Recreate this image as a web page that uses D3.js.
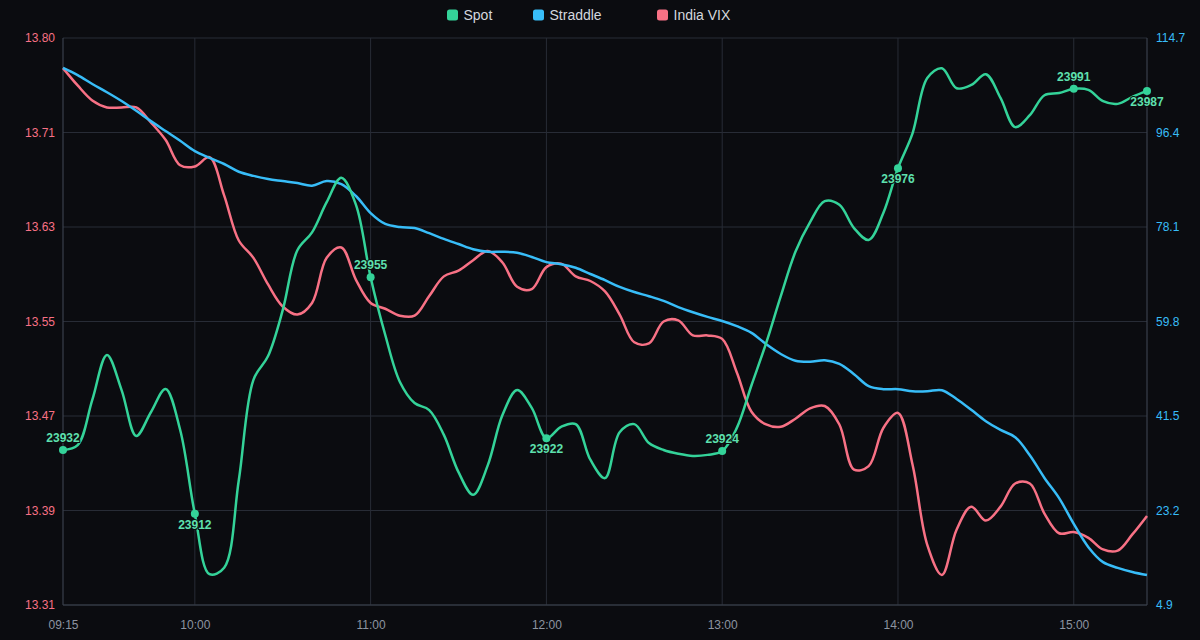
<!DOCTYPE html>
<html>
<head>
<meta charset="utf-8">
<script src="https://cdn.jsdelivr.net/npm/d3@7"></script>
<style>
  html, body { margin: 0; padding: 0; background: #0b0c10; }
  svg { display: block; font-family: "Liberation Sans", Arial, sans-serif; }
</style>
</head>
<body>
<svg id="chart"></svg>
<script>
// 5-minute snapshots, 09:15 to 15:25
const times = [
  "09:15","09:20","09:25","09:30","09:35","09:40","09:45","09:50","09:55","10:00",
  "10:05","10:10","10:15","10:20","10:25","10:30","10:35","10:40","10:45","10:50",
  "10:55","11:00","11:05","11:10","11:15","11:20","11:25","11:30","11:35","11:40",
  "11:45","11:50","11:55","12:00","12:05","12:10","12:15","12:20","12:25","12:30",
  "12:35","12:40","12:45","12:50","12:55","13:00","13:05","13:10","13:15","13:20",
  "13:25","13:30","13:35","13:40","13:45","13:50","13:55","14:00","14:05","14:10",
  "14:15","14:20","14:25","14:30","14:35","14:40","14:45","14:50","14:55","15:00",
  "15:05","15:10","15:15","15:20","15:25"
];

const spot = [
  23923.7, 23924.6, 23933.0, 23941.3, 23934.8, 23926.3, 23930.7, 23935.0, 23927.4, 23911.9,
  23900.7, 23901.9, 23918.1, 23936.7, 23941.1, 23949.6, 23960.7, 23964.0, 23969.6, 23974.1,
  23969.1, 23955.7, 23945.0, 23936.3, 23932.4, 23931.1, 23926.5, 23919.6, 23915.4, 23920.9,
  23930.2, 23934.8, 23931.5, 23925.9, 23928.0, 23928.5, 23921.9, 23918.5, 23927.0, 23928.5,
  23925.0, 23923.7, 23923.0, 23922.6, 23922.8, 23923.5, 23927.8, 23935.7, 23943.5, 23952.2,
  23960.4, 23965.9, 23969.8, 23969.1, 23964.8, 23962.6, 23967.6, 23975.9, 23982.4, 23992.6,
  23994.4, 23990.7, 23991.3, 23993.3, 23988.9, 23983.5, 23985.7, 23989.4, 23989.8, 23990.6,
  23990.4, 23988.3, 23987.8, 23989.1, 23990.2
];

const straddle = [
  108.9, 107.5, 105.8, 104.2, 102.5, 100.6, 98.6, 96.7, 94.8, 92.8,
  91.5, 90.3, 88.8, 88.0, 87.4, 87.0, 86.6, 86.1, 87.0, 86.4,
  84.1, 80.8, 78.7, 78.1, 77.9, 76.9, 75.8, 74.8, 73.8, 73.3,
  73.3, 73.1, 72.3, 71.3, 70.9, 70.2, 69.0, 67.8, 66.5, 65.5,
  64.7, 63.8, 62.6, 61.6, 60.7, 59.9, 58.9, 57.6, 55.4, 53.5,
  52.2, 52.0, 52.3, 51.6, 49.6, 47.3, 46.7, 46.7, 46.3, 46.3,
  46.5, 44.8, 42.7, 40.5, 38.8, 37.4, 33.9, 29.5, 25.6, 20.6,
  16.1, 13.2, 12.1, 11.3, 10.7
];

const vix = [
  13.774, 13.759, 13.746, 13.740, 13.740, 13.740, 13.727, 13.712, 13.690, 13.689,
  13.697, 13.664, 13.625, 13.610, 13.587, 13.568, 13.561, 13.571, 13.610, 13.619,
  13.591, 13.571, 13.566, 13.560, 13.560, 13.577, 13.594, 13.599, 13.608, 13.616,
  13.606, 13.585, 13.583, 13.602, 13.605, 13.594, 13.590, 13.581, 13.561, 13.537,
  13.536, 13.555, 13.556, 13.543, 13.543, 13.540, 13.511, 13.477, 13.466, 13.464,
  13.471, 13.480, 13.482, 13.466, 13.427, 13.430, 13.463, 13.476, 13.431, 13.362,
  13.336, 13.375, 13.395, 13.383, 13.395, 13.415, 13.415, 13.389, 13.372, 13.373,
  13.368, 13.358, 13.357, 13.371, 13.387
];

// spot markers
const markerTimes = ["09:15", "10:00", "11:00", "12:00", "13:00", "14:00", "15:00", "15:25"];
const markerLabels = ["23932", "23912", "23955", "23922", "23924", "23976", "23991", "23987"];

// axis ticks
const xTickLabels = ["09:15", "10:00", "11:00", "12:00", "13:00", "14:00", "15:00"];
const vixTickLabels = ["13.31", "13.39", "13.47", "13.55", "13.63", "13.71", "13.80"];
const straddleTickLabels = ["4.9", "23.2", "41.5", "59.8", "78.1", "96.4", "114.7"];
const vixDomain = [13.31, 13.80];
const straddleDomain = [4.9, 114.7];
const spotDomain = [23895, 24000];

const seriesNames = ["Spot", "Straddle", "India VIX"];

class LineChart {

    constructor(_config) {
        this.config = {
            parentElement: _config.parentElement,
            containerWidth: 1200,
            containerHeight: 640,
            margin: { top: 38, right: 53, bottom: 35, left: 63 },
            color: {
                spot: '#34d399',
                straddle: '#38bdf8',
                vix: '#f87185',
                grid: '#282c36',
                frame: '#3a404c',
                tick: '#8d94a1',
                legend: '#d4d7de',
                bg: '#0b0c10'
            },
            legendX: [447, 533, 657]
        };
        this.initVis();
    }

    initVis() {
        let vis = this;
        const m = vis.config.margin;
        vis.width = vis.config.containerWidth - m.left - m.right;
        vis.height = vis.config.containerHeight - m.top - m.bottom;

        vis.parseTime = d3.timeParse('%H:%M');
        vis.data = times.map((t, i) => ({
            time: vis.parseTime(t),
            spot: spot[i],
            straddle: straddle[i],
            vix: vix[i]
        }));

        vis.xScale = d3.scaleTime()
            .domain(d3.extent(vis.data, d => d.time))
            .range([0, vis.width]);
        vis.yVix = d3.scaleLinear().domain(vixDomain).range([vis.height, 0]);
        vis.yStraddle = d3.scaleLinear().domain(straddleDomain).range([vis.height, 0]);
        vis.ySpot = d3.scaleLinear().domain(spotDomain).range([vis.height, 0]);

        const step = (dom) => d3.range(7).map(i => dom[0] + i * (dom[1] - dom[0]) / 6);
        vis.vixTicks = step(vixDomain);
        vis.straddleTicks = step(straddleDomain);
        vis.xTicks = xTickLabels.map(vis.parseTime);

        vis.svg = d3.select(vis.config.parentElement)
            .attr('width', vis.config.containerWidth)
            .attr('height', vis.config.containerHeight)
            .style('background', vis.config.color.bg);

        vis.chart = vis.svg.append('g')
            .attr('transform', `translate(${m.left},${m.top})`);

        // gridlines
        vis.chart.append('g').attr('class', 'grid-h')
            .selectAll('line')
            .data(vis.vixTicks)
            .join('line')
            .attr('x1', 0).attr('x2', vis.width)
            .attr('y1', d => vis.yVix(d)).attr('y2', d => vis.yVix(d))
            .attr('stroke', vis.config.color.grid)
            .attr('stroke-width', 1);

        vis.chart.append('g').attr('class', 'grid-v')
            .selectAll('line')
            .data(vis.xTicks.slice(1))
            .join('line')
            .attr('x1', d => vis.xScale(d)).attr('x2', d => vis.xScale(d))
            .attr('y1', 0).attr('y2', vis.height)
            .attr('stroke', vis.config.color.grid)
            .attr('stroke-width', 1);

        // frame (left, right, bottom)
        const frame = vis.chart.append('g').attr('class', 'frame')
            .attr('stroke', vis.config.color.frame).attr('stroke-width', 1.2);
        frame.append('line').attr('x1', 0).attr('x2', 0).attr('y1', 0).attr('y2', vis.height);
        frame.append('line').attr('x1', vis.width).attr('x2', vis.width).attr('y1', 0).attr('y2', vis.height);
        frame.append('line').attr('x1', 0).attr('x2', vis.width).attr('y1', vis.height).attr('y2', vis.height);

        // axes
        vis.yAxisLeft = d3.axisLeft(vis.yVix)
            .tickValues(vis.vixTicks)
            .tickFormat((d, i) => vixTickLabels[i])
            .tickSize(0)
            .tickPadding(8);
        vis.yAxisRight = d3.axisRight(vis.yStraddle)
            .tickValues(vis.straddleTicks)
            .tickFormat((d, i) => straddleTickLabels[i])
            .tickSize(0)
            .tickPadding(9);
        vis.xAxis = d3.axisBottom(vis.xScale)
            .tickValues(vis.xTicks)
            .tickFormat((d, i) => xTickLabels[i])
            .tickSize(0)
            .tickPadding(15);

        vis.yAxisLeftG = vis.chart.append('g').attr('class', 'axis y-axis-left');
        vis.yAxisRightG = vis.chart.append('g').attr('class', 'axis y-axis-right')
            .attr('transform', `translate(${vis.width},0)`);
        vis.xAxisG = vis.chart.append('g').attr('class', 'axis x-axis')
            .attr('transform', `translate(0,${vis.height})`);

        // legend
        const legendKeys = [vis.config.color.spot, vis.config.color.straddle, vis.config.color.vix];
        const legend = vis.svg.append('g').attr('class', 'legend')
            .selectAll('g')
            .data(seriesNames)
            .join('g')
            .attr('transform', (d, i) => `translate(${vis.config.legendX[i]},0)`);
        legend.append('rect')
            .attr('x', 0).attr('y', 9.5)
            .attr('width', 11).attr('height', 11)
            .attr('rx', 2.5)
            .attr('fill', (d, i) => legendKeys[i]);
        legend.append('text')
            .attr('x', 16.5).attr('y', 20)
            .attr('fill', vis.config.color.legend)
            .attr('font-size', 14)
            .text(d => d);

        vis.updateVis();
    }

    updateVis() {
        let vis = this;
        vis.markers = markerTimes.map((t, i) => {
            const time = vis.parseTime(t);
            const row = vis.data.find(d => +d.time === +time);
            return { time: time, spot: row.spot, label: markerLabels[i], above: i % 2 === 0 };
        });
        vis.renderVis();
    }

    renderVis() {
        let vis = this;
        const curve = d3.curveCatmullRom.alpha(0.5);

        const lines = [
            { key: 'vix', y: vis.yVix, color: vis.config.color.vix },
            { key: 'straddle', y: vis.yStraddle, color: vis.config.color.straddle },
            { key: 'spot', y: vis.ySpot, color: vis.config.color.spot }
        ];

        vis.chart.selectAll('.series')
            .data(lines, d => d.key)
            .join('path')
            .attr('class', 'series')
            .attr('fill', 'none')
            .attr('stroke', d => d.color)
            .attr('stroke-width', 2.5)
            .attr('stroke-linejoin', 'round')
            .attr('d', s => d3.line()
                .x(d => vis.xScale(d.time))
                .y(d => s.y(d[s.key]))
                .curve(curve)(vis.data));

        vis.chart.selectAll('.marker')
            .data(vis.markers)
            .join('circle')
            .attr('class', 'marker')
            .attr('cx', d => vis.xScale(d.time))
            .attr('cy', d => vis.ySpot(d.spot))
            .attr('r', 4)
            .attr('fill', vis.config.color.spot);

        vis.chart.selectAll('.marker-label')
            .data(vis.markers)
            .join('text')
            .attr('class', 'marker-label')
            .attr('x', d => vis.xScale(d.time))
            .attr('y', d => vis.ySpot(d.spot) + (d.above ? -8 : 15))
            .attr('text-anchor', 'middle')
            .attr('font-size', 12)
            .attr('font-weight', 'bold')
            .attr('fill', '#5ee0ae')
            .attr('stroke', vis.config.color.bg)
            .attr('stroke-width', 2)
            .attr('paint-order', 'stroke')
            .text(d => d.label);

        vis.yAxisLeftG.call(vis.yAxisLeft)
            .call(g => g.select('.domain').remove())
            .call(g => g.selectAll('text')
                .attr('fill', vis.config.color.vix)
                .attr('font-size', 12)
                .attr('font-family', 'Liberation Sans, Arial, sans-serif'));

        vis.yAxisRightG.call(vis.yAxisRight)
            .call(g => g.select('.domain').remove())
            .call(g => g.selectAll('text')
                .attr('fill', vis.config.color.straddle)
                .attr('font-size', 12)
                .attr('font-family', 'Liberation Sans, Arial, sans-serif'));

        vis.xAxisG.call(vis.xAxis)
            .call(g => g.select('.domain').remove())
            .call(g => g.selectAll('text')
                .attr('fill', vis.config.color.tick)
                .attr('font-size', 12)
                .attr('font-family', 'Liberation Sans, Arial, sans-serif'));
    }
}

const chart = new LineChart({ parentElement: '#chart' });
</script>
</body>
</html>
